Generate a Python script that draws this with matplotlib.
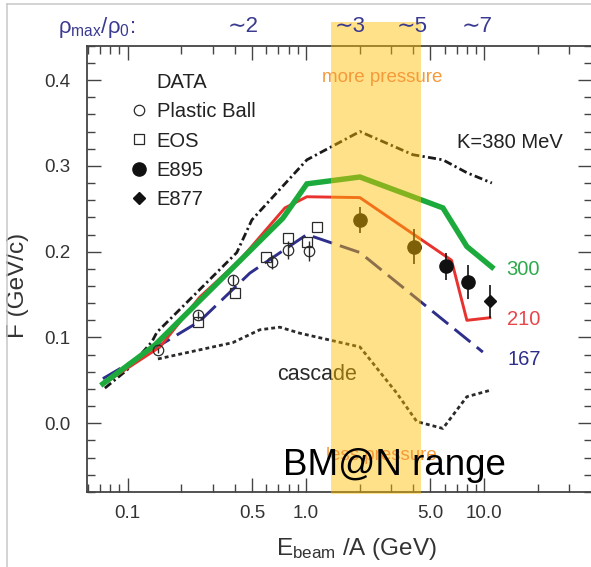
import matplotlib
matplotlib.use('Agg')
import matplotlib.pyplot as plt
from matplotlib.ticker import FixedLocator, FixedFormatter, LogLocator, NullFormatter, MultipleLocator, FormatStrFormatter
from matplotlib.transforms import blended_transform_factory
from matplotlib.patches import Rectangle
from matplotlib.lines import Line2D

plt.rcParams['font.family'] = ['Liberation Sans', 'DejaVu Sans']
plt.rcParams['mathtext.fontset'] = 'custom'
plt.rcParams['mathtext.rm'] = 'Liberation Sans'
plt.rcParams['mathtext.it'] = 'Liberation Sans:italic'

# ---------------- data ----------------
e_k380 = [0.0746, 0.0991, 0.137, 0.146, 0.410, 0.498, 1.013, 2.01, 3.98, 5.87, 8.0, 11.05]
f_k380 = [0.041, 0.062, 0.095, 0.106, 0.199, 0.237, 0.307, 0.340, 0.313, 0.307, 0.292, 0.280]
e_k300 = [0.0727, 0.142, 0.743, 1.013, 2.01, 5.87, 8.0, 11.05]
f_k300 = [0.046, 0.091, 0.239, 0.279, 0.287, 0.251, 0.206, 0.182]
e_k210 = [0.0746, 0.152, 0.254, 0.426, 0.763, 1.013, 2.01, 6.56, 8.0, 10.76]
f_k210 = [0.047, 0.089, 0.147, 0.190, 0.251, 0.264, 0.263, 0.190, 0.120, 0.123]
e_k167 = [0.0727, 0.152, 0.254, 0.485, 1.013, 2.01, 9.83]
f_k167 = [0.052, 0.091, 0.119, 0.175, 0.220, 0.199, 0.083]
e_casc = [0.148, 0.389, 0.552, 0.715, 0.925, 2.01, 3.24, 4.19, 5.87, 8.0, 11.05]
f_casc = [0.075, 0.094, 0.109, 0.112, 0.105, 0.089, 0.035, 0.002, -0.006, 0.031, 0.039]

pb_e = [0.148, 0.248, 0.389, 0.645, 0.793, 1.039]
pb_f = [0.085, 0.126, 0.167, 0.188, 0.202, 0.201]
pb_err = [0.003, 0.005, 0.006, 0.008, 0.010, 0.012]
eos_e = [0.248, 0.400, 0.597, 0.793, 1.013, 1.153]
eos_f = [0.118, 0.152, 0.194, 0.216, 0.211, 0.229]
e895_e = [2.01, 4.03, 6.10, 8.10]
e895_f = [0.237, 0.206, 0.183, 0.165]
e895_err = [0.015, 0.020, 0.016, 0.020]
e877_e = [10.76]
e877_f = [0.142]
e877_err = [0.019]

bman_range = [1.38, 4.41]
rho_labels = ['∼2', '∼3', '∼5', '∼7']
rho_energies = [0.443, 1.78, 3.97, 9.08]
xtick_vals = [0.1, 0.5, 1.0, 5.0, 10.0]
xtick_labels = ['0.1', '0.5', '1.0', '5.0', '10.0']

# ---------------- figure ----------------
W, H = 591, 567
fig = plt.figure(figsize=(W / 100, H / 100), dpi=100)
ax = fig.add_axes([86.7 / W, 1 - 492.3 / H, 504.8 / W, (492.3 - 45.7) / H])
ax.set_xscale('log')
ax.set_xlim(0.059, 40)
ax.set_ylim(-0.0804, 0.440)

navy = '#2E2E8C'
green = '#1DAA3C'
red = '#E8322E'

ax.plot(e_k380, f_k380, color='#1a1a1a', lw=2.0, dashes=(2.9, 1.2, 0.8, 1.2), zorder=2)
ax.plot(e_k167, f_k167, color=navy, lw=2.1, dashes=(7, 2.8), zorder=2)
ax.plot(e_k210, f_k210, color=red, lw=2.1, zorder=2.1)
ax.plot(e_k300, f_k300, color=green, lw=3.9, zorder=2.2, solid_joinstyle='miter')
ax.plot(e_casc, f_casc, color='#2a2a2a', lw=2.0, dashes=(1.4, 1.1), zorder=2)

mk_col = '#2a2a2a'
ax.errorbar(pb_e, pb_f, yerr=pb_err, fmt='o', ms=7.5, mfc='none', mec=mk_col, mew=0.9,
            ecolor=mk_col, elinewidth=1.0, capsize=0, zorder=3)
ax.plot(eos_e, eos_f, 's', ms=7.5, mfc='none', mec=mk_col, mew=0.9, zorder=3)
ax.errorbar(e895_e, e895_f, yerr=e895_err, fmt='o', ms=9.5, color='#111111',
            ecolor='#111111', elinewidth=1.2, capsize=0, zorder=3)
ax.errorbar(e877_e, e877_f, yerr=e877_err, fmt='D', ms=6.5, color='#111111',
            ecolor='#111111', elinewidth=1.2, capsize=0, zorder=3)

# BM@N band (semi transparent over the curves)
band_tr = blended_transform_factory(ax.transData, fig.transFigure)
ax.add_patch(Rectangle((bman_range[0], 1 - 494 / H), bman_range[1] - bman_range[0], (494 - 22) / H,
                       transform=band_tr, facecolor='#FFBE00', alpha=0.46, edgecolor='none',
                       zorder=5, clip_on=False))

# ticks
ax.xaxis.set_major_locator(FixedLocator(xtick_vals))
ax.xaxis.set_major_formatter(FixedFormatter(xtick_labels))
ax.xaxis.set_minor_locator(LogLocator(base=10, subs=[1, 2, 3, 4, 5, 6, 7, 8, 9], numticks=20))
ax.xaxis.set_minor_formatter(NullFormatter())
ax.yaxis.set_major_locator(MultipleLocator(0.1))
ax.yaxis.set_minor_locator(MultipleLocator(0.02))
ax.yaxis.set_major_formatter(FormatStrFormatter('%.1f'))
ax.tick_params(which='both', direction='in', top=True, right=True, color='#444444',
               labelcolor='#333333', labelsize=13.5)
ax.tick_params(which='major', length=10, width=1.0)
ax.tick_params(which='minor', length=5.5, width=1.0)
ax.tick_params(axis='x', which='major', pad=9)
ax.tick_params(axis='y', which='major', pad=12)
for s in ax.spines.values():
    s.set_color('#444444')
    s.set_linewidth(1.3)

ax.set_xlabel('E$_{\\mathrm{beam}}$ /A (GeV)', fontsize=17.5, color='#333333')
ax.xaxis.set_label_coords((357 - 86.7) / 504.8, (492.3 - 536) / 446.6)
ax.set_ylabel('F (GeV/c)', fontsize=17.5, color='#333333')
ax.yaxis.set_label_coords((29 - 86.7) / 504.8, (492.3 - 285) / 446.6)

# texts
ax.text(7.0, 0.3205, 'K=380 MeV', fontsize=14.5, color='#222222', ha='left', va='baseline', zorder=6)
ax.text(13.36, 0.1728, '300', fontsize=14.5, color='#2DAA4A', ha='left', va='baseline', zorder=6)
ax.text(13.36, 0.1146, '210', fontsize=14.5, color='#E8454A', ha='left', va='baseline', zorder=6)
ax.text(13.6, 0.0680, '167', fontsize=14.5, color=navy, ha='left', va='baseline', zorder=6)
ax.text(0.688, 0.0505, 'cascade', fontsize=15.5, color='#2a2a2a', ha='left', va='baseline', zorder=4)
ax.text(2.668, 0.4025, 'more pressure', fontsize=13.5, color='#F59A3A', ha='center', va='center', zorder=6)
ax.text(2.668, -0.037, 'less pressure', fontsize=13.5, color='#F59A3A', ha='center', va='center', zorder=6)
ax.text(3.135, -0.0602, 'BM@N range', fontsize=26.5, color='black', ha='center', va='baseline', zorder=7)

# density labels on top
fig.text(58 / W, 1 - 27 / H, 'ρ$_{\\mathrm{max}}$/ρ$_0$:', fontsize=16, color='#3A3A90', ha='left', va='center')
for lab, e in zip(rho_labels, rho_energies):
    ax.text(e, 1 - 27 / H, lab, transform=band_tr, fontsize=16, color='#3A3A90',
            ha='center', va='center', zorder=6)

# legend
blank = Line2D([], [], linestyle='none')
h_pb = Line2D([], [], linestyle='none', marker='o', ms=7.5, mfc='none', mec=mk_col, mew=0.9)
h_eos = Line2D([], [], linestyle='none', marker='s', ms=7.5, mfc='none', mec=mk_col, mew=0.9)
h_895 = Line2D([], [], linestyle='none', marker='o', ms=9.5, color='#111111')
h_877 = Line2D([], [], linestyle='none', marker='D', ms=6.5, color='#111111')
leg = ax.legend([blank, h_pb, h_eos, h_895, h_877], ['DATA', 'Plastic Ball', 'EOS', 'E895', 'E877'],
                loc='upper left', bbox_to_anchor=((128.6 - 86.7) / 504.8, (492.3 - 73.4) / 446.6),
                frameon=False, fontsize=14.5, handlelength=1.0, handletextpad=0.4,
                labelspacing=0.5, borderpad=0, borderaxespad=0)
for t in leg.get_texts():
    t.set_color('#222222')

# thin grey frame of the original slide
fig.add_artist(Line2D([7 / W, 7 / W], [0, 1 - 4 / H], transform=fig.transFigure, color='#c8c8c8', lw=1.1))
fig.add_artist(Line2D([7 / W, 1], [1 - 4 / H, 1 - 4 / H], transform=fig.transFigure, color='#c8c8c8', lw=1.1))

fig.savefig('out.png', dpi=100)
